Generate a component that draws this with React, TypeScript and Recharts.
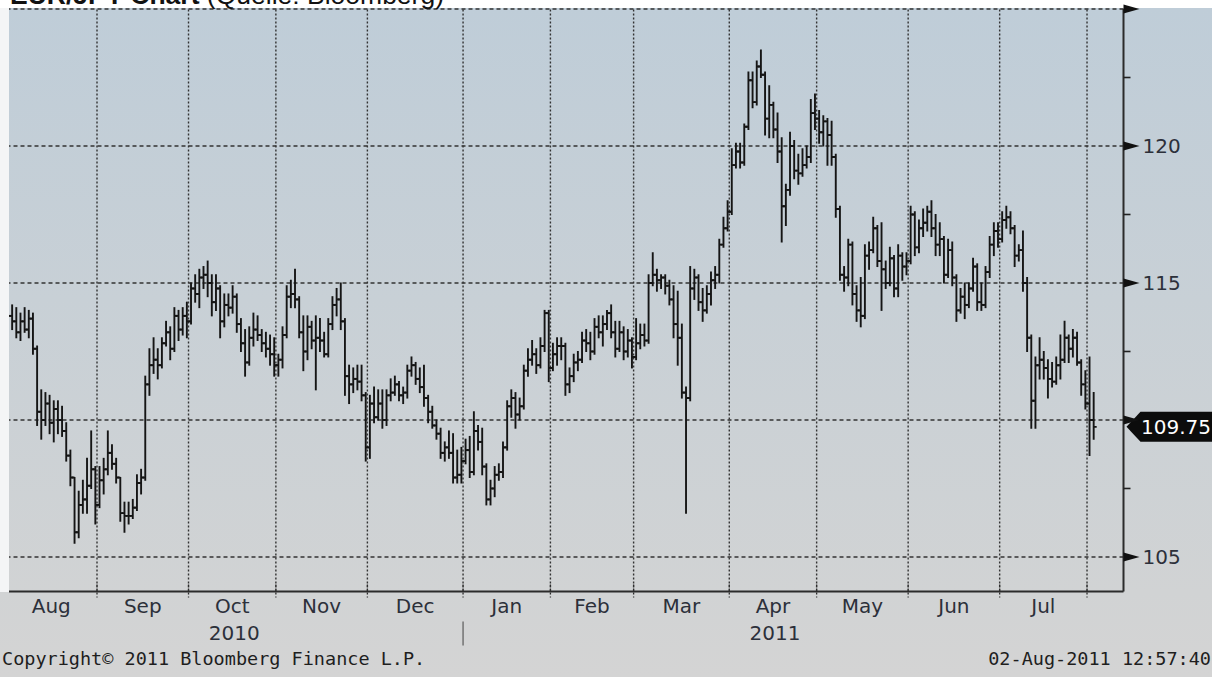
import React from 'react';
import { ComposedChart, Bar, XAxis, YAxis, ReferenceLine, ReferenceDot } from 'recharts';

// ---- calendar / axis data ----
const monthLabels = ['Aug', 'Sep', 'Oct', 'Nov', 'Dec', 'Jan', 'Feb', 'Mar', 'Apr', 'May', 'Jun', 'Jul', 'Aug'];
const monthStart = [0, 22, 44, 65, 87, 110, 131, 151, 174, 195, 217, 239, 260];
const yearMonthIdx = [2, 8];
const yearText = ['2010', '2011'];
const majorTicks = [105, 110, 115, 120, 125];
const minorTicks = [107.5, 112.5, 117.5, 122.5];
const lastPrice = 109.75;
const copyrightText = 'Copyright\u00A9 2011 Bloomberg Finance L.P.';
const stampText = '02-Aug-2011 12:57:40';

// ---- daily EUR/JPY OHLC (02-Aug-2010 .. 02-Aug-2011) ----
const openVals = [
  113.0,113.8,113.6,113.2,113.6,113.3,113.7,112.6,110.3,110.0,
  110.6,109.9,110.4,110.0,109.6,108.7,107.9,105.9,106.9,107.1,
  107.6,108.2,106.9,107.8,108.2,108.8,108.4,107.9,106.6,106.5,
  106.5,106.8,107.7,107.9,111.3,112.0,112.2,112.0,112.8,113.2,
  112.6,113.8,113.3,113.8,113.6,114.8,114.6,115.2,115.3,115.0,
  114.3,114.8,113.6,114.2,114.1,114.5,113.5,112.8,112.1,113.0,
  113.3,113.1,112.8,112.6,112.4,112.0,112.2,113.1,114.5,114.6,
  114.4,113.2,112.5,113.4,112.9,113.0,112.9,112.4,113.5,114.2,
  114.4,113.6,111.6,111.3,111.5,111.4,110.9,109.0,110.6,110.1,
  110.6,110.0,110.9,111.0,111.3,110.9,111.0,111.8,112.0,111.5,
  111.2,110.8,110.3,109.8,109.5,108.8,109.0,108.8,107.9,108.0,
  108.5,108.9,108.1,109.6,109.2,108.3,107.1,107.5,108.0,108.1,
  109.0,110.5,110.8,110.2,110.5,111.8,112.2,112.4,112.0,112.7,
  113.9,111.9,112.4,112.7,112.7,111.3,111.6,112.1,112.2,112.9,
  112.8,112.5,113.4,113.2,113.5,113.9,113.2,112.6,113.2,112.5,
  112.9,112.3,112.8,113.1,112.9,115.0,115.3,115.1,115.2,114.9,
  114.4,113.5,113.0,111.0,110.8,114.8,115.2,114.3,114.0,114.6,
  115.1,115.3,116.4,117.0,117.6,119.3,119.8,119.4,120.7,122.4,
  121.6,122.9,122.6,121.0,121.5,120.6,119.8,117.8,118.4,120.0,
  119.1,119.0,119.3,119.6,121.2,121.0,120.5,120.9,120.4,119.6,
  117.7,115.3,115.2,116.4,114.6,114.0,113.8,116.0,116.2,117.0,
  115.8,115.5,115.0,115.9,114.8,116.0,115.6,115.8,117.5,116.3,
  117.0,117.2,117.6,117.0,116.4,116.6,115.3,116.2,115.2,114.0,
  114.5,114.2,114.8,115.6,114.3,114.2,115.4,116.4,116.9,116.6,
  117.3,117.4,117.0,116.0,116.2,115.0,113.0,110.7,112.0,112.2,
  111.9,111.5,111.4,112.0,112.2,113.0,112.6,113.0,112.1,111.3,
  110.6,110.0,
];
const highVals = [
  114.0,114.2,114.1,113.9,114.1,114.0,113.9,112.7,111.1,111.0,
  110.9,110.7,110.7,110.5,109.9,108.9,107.9,107.4,107.8,108.6,
  109.6,108.3,108.3,108.6,109.6,109.1,108.6,107.9,107.0,107.0,
  107.1,108.0,108.2,111.6,112.6,113.0,112.6,113.0,113.6,113.4,
  114.1,114.0,114.1,114.3,115.0,115.3,115.5,115.6,115.8,115.3,
  115.3,114.9,114.6,114.6,114.9,114.6,113.7,113.3,113.4,113.9,
  113.8,113.3,113.2,113.1,113.0,112.4,113.4,114.9,115.1,115.5,
  114.5,113.8,113.8,113.6,113.8,113.7,113.2,113.7,114.5,114.8,
  115.0,113.7,112.0,111.9,112.0,112.0,111.0,110.9,111.2,111.1,
  111.1,111.1,111.5,111.6,111.4,111.2,112.0,112.3,112.1,111.9,
  112.0,110.9,110.5,110.0,109.7,109.2,109.6,109.5,108.9,109.0,
  109.3,109.4,110.3,109.8,109.7,108.4,107.8,108.3,108.4,109.2,
  110.7,111.1,111.0,110.8,112.0,112.6,112.9,112.6,113.0,114.0,
  114.0,112.8,113.0,113.0,112.8,111.9,112.4,112.5,113.2,113.3,
  113.2,113.7,113.8,113.8,114.0,114.2,113.6,113.6,113.4,113.3,
  113.0,113.7,113.5,113.5,115.3,116.1,115.5,115.3,115.3,115.1,
  114.9,114.7,113.5,111.2,115.6,115.5,115.3,114.8,114.9,115.4,
  115.6,116.6,117.4,118.0,119.9,120.1,120.1,120.8,122.7,122.7,
  123.1,123.5,122.7,122.2,121.6,121.2,120.3,118.6,120.5,120.2,
  119.7,119.9,120.0,121.7,121.9,121.3,121.1,121.0,120.9,119.7,
  117.8,115.6,116.6,116.5,114.9,115.2,116.4,116.5,117.4,117.1,
  117.2,115.8,116.3,116.0,116.4,116.1,116.1,117.8,117.6,117.3,
  117.7,117.8,118.0,117.5,117.2,116.7,116.6,116.5,115.3,114.8,
  115.0,115.0,115.9,115.7,115.0,115.6,116.7,117.2,117.2,117.6,
  117.8,117.6,117.1,116.4,116.9,115.2,113.1,112.3,113.0,112.5,
  112.2,112.1,112.3,113.1,113.6,113.1,113.3,113.2,112.2,111.8,
  112.3,111.0,
];
const lowVals = [
  112.8,113.3,113.0,112.9,113.2,113.0,112.4,109.8,109.3,109.8,
  109.5,109.2,109.5,109.4,108.5,107.6,105.5,105.7,106.6,106.6,
  107.5,106.2,106.8,107.3,108.0,108.2,107.7,106.3,105.9,106.2,
  106.4,106.7,107.3,107.8,110.9,111.7,111.5,111.9,112.7,112.2,
  112.5,112.9,113.1,113.0,113.5,114.3,114.1,114.8,114.5,113.8,
  114.0,113.0,113.4,113.8,113.9,113.2,112.5,111.6,112.0,112.7,
  112.9,112.5,112.3,112.0,111.6,111.6,111.9,113.0,114.1,114.1,
  113.0,111.8,112.2,112.6,111.1,112.5,112.3,112.3,113.3,113.8,
  113.3,110.9,110.6,111.0,111.1,110.7,108.5,108.6,109.9,110.0,
  109.7,109.8,110.7,110.9,110.7,110.6,110.8,111.6,111.3,111.0,
  110.5,109.9,109.7,109.3,108.6,108.5,108.6,107.7,107.7,107.7,
  108.4,107.9,108.0,108.9,108.0,106.9,106.9,107.2,107.8,107.9,
  108.9,110.1,109.7,110.0,110.4,111.6,112.0,111.7,111.9,112.5,
  111.4,111.8,112.0,112.2,110.9,111.0,111.4,111.8,112.1,112.5,
  112.2,112.4,113.0,112.7,113.3,113.0,112.3,112.5,112.2,112.3,
  111.9,112.2,112.6,112.7,112.8,114.9,114.7,114.8,114.6,114.2,
  113.0,112.0,110.8,106.6,110.7,114.4,114.0,113.6,113.9,114.2,
  114.8,115.0,116.3,116.9,117.5,119.2,119.2,119.3,120.6,121.4,
  121.5,122.5,120.4,120.3,120.3,119.4,116.5,117.1,118.2,118.8,
  118.6,118.9,119.2,119.4,120.6,120.1,120.0,119.3,119.3,117.4,
  115.1,114.7,114.9,114.2,113.6,113.4,113.7,115.5,116.1,115.6,
  114.0,114.8,114.9,114.5,114.5,115.1,115.3,115.7,116.0,116.1,
  116.7,116.9,116.7,116.0,116.0,115.0,115.2,114.9,113.6,113.9,
  113.7,114.1,114.7,114.0,114.0,114.1,115.2,116.0,116.3,116.5,
  117.0,116.8,115.6,115.8,114.7,112.5,109.7,109.7,111.5,111.5,
  110.8,111.2,111.3,111.5,112.1,112.1,112.3,112.0,110.9,110.4,
  108.7,109.3,
];
const closeVals = [
  113.8,113.6,113.2,113.6,113.3,113.7,112.6,110.3,110.0,110.6,
  109.9,110.4,110.0,109.6,108.7,107.9,105.9,106.9,107.1,107.6,
  108.2,106.9,107.8,108.2,108.8,108.4,107.9,106.6,106.5,106.5,
  106.8,107.7,107.9,111.3,112.0,112.2,112.0,112.8,113.2,112.6,
  113.8,113.3,113.8,113.6,114.8,114.6,115.2,115.3,115.0,114.3,
  114.8,113.6,114.2,114.1,114.5,113.5,112.8,112.1,113.0,113.3,
  113.1,112.8,112.6,112.4,112.0,112.2,113.1,114.5,114.6,114.4,
  113.2,112.5,113.4,112.9,113.0,112.9,112.4,113.5,114.2,114.4,
  113.6,111.6,111.3,111.5,111.4,110.9,109.0,110.6,110.1,110.6,
  110.0,110.9,111.0,111.3,110.9,111.0,111.8,112.0,111.5,111.2,
  110.8,110.3,109.8,109.5,108.8,109.0,108.8,107.9,108.0,108.5,
  108.9,108.1,109.6,109.2,108.3,107.1,107.5,108.0,108.1,109.0,
  110.5,110.8,110.2,110.5,111.8,112.2,112.4,112.0,112.7,113.9,
  111.9,112.4,112.7,112.7,111.3,111.6,112.1,112.2,112.9,112.8,
  112.5,113.4,113.2,113.5,113.9,113.2,112.6,113.2,112.5,112.9,
  112.3,112.8,113.1,112.9,115.0,115.3,115.1,115.2,114.9,114.4,
  113.5,113.0,111.0,110.8,114.8,115.2,114.3,114.0,114.6,115.1,
  115.3,116.4,117.0,117.6,119.3,119.8,119.4,120.7,122.4,121.6,
  122.9,122.6,121.0,121.5,120.6,119.8,117.8,118.4,120.0,119.1,
  119.0,119.3,119.6,121.2,121.0,120.5,120.9,120.4,119.6,117.7,
  115.3,115.2,116.4,114.6,114.0,113.8,116.0,116.2,117.0,115.8,
  115.5,115.0,115.9,114.8,116.0,115.6,115.8,117.5,116.3,117.0,
  117.2,117.6,117.0,116.4,116.6,115.3,116.2,115.2,114.0,114.5,
  114.2,114.8,115.6,114.3,114.2,115.4,116.4,116.9,116.6,117.3,
  117.4,117.0,116.0,116.2,115.0,113.0,110.7,112.0,112.2,111.9,
  111.5,111.4,112.0,112.2,113.0,112.6,113.0,112.1,111.3,110.6,
  110.0,109.75,
];

// ---- geometry of the chart frame ----
const W = 1212;
const H = 677;
const X_MIN = 0.344;
const X_MAX = 268.27;
const Y_MIN = 103.74;
const Y_MAX = 125;

const data = openVals.map((o, i) => ({
  i,
  o,
  h: highVals[i],
  l: lowVals[i],
  c: closeVals[i],
  range: [lowVals[i], highVals[i]],
}));

const boundaries = monthStart.slice(1).map((s) => s - 0.5);
const mids = monthStart.slice(0, 12).map((s, m) => (s + monthStart[m + 1] - 1) / 2);
const xTicks = [...boundaries, ...mids].sort((a, b) => a - b);
const yTicks = [...majorTicks, ...minorTicks].sort((a, b) => a - b);

const near = (arr: number[], v: number) => arr.findIndex((a) => Math.abs(a - v) < 1e-6);

const LABEL_FONT = 'DejaVu Sans';
const LABEL_COLOR = '#2c303a';

const OhlcShape = (props: any) => {
  const { x, y, width, height, payload } = props;
  if (x == null || y == null || !payload) return null;
  const top = Math.min(y, y + height);
  const bot = Math.max(y, y + height);
  const span = payload.h - payload.l;
  const py = (v: number) => (span > 0 ? top + ((payload.h - v) / span) * (bot - top) : top);
  const cx = x + width / 2;
  const yo = py(payload.o);
  const yc = py(payload.c);
  return (
    <g stroke="#151515" strokeWidth={1.9} fill="none">
      <line x1={cx} x2={cx} y1={top - 0.5} y2={bot + 0.5} />
      <line x1={cx - 3} x2={cx} y1={yo} y2={yo} />
      <line x1={cx} x2={cx + 3} y1={yc} y2={yc} />
    </g>
  );
};

const XTick = (props: any) => {
  const { x, y, payload } = props;
  const v = payload.value;
  const bi = near(boundaries, v);
  if (bi >= 0) {
    return (
      <g>
        <line x1={x} x2={x} y1={y - 7} y2={y + 6} stroke="#2b2b2b" strokeWidth={1.3} strokeDasharray="2 2" />
        {monthLabels[bi + 1] === 'Jan' ? (
          <line x1={x} x2={x} y1={y + 30} y2={y + 54} stroke="#5a5a5a" strokeWidth={1.2} />
        ) : null}
      </g>
    );
  }
  const mi = near(mids, v);
  if (mi < 0) return null;
  const yi = yearMonthIdx.indexOf(mi);
  return (
    <g>
      <text x={x} y={y + 21} textAnchor="middle" fontFamily={LABEL_FONT} fontSize={20} fill={LABEL_COLOR}>
        {monthLabels[mi]}
      </text>
      {yi >= 0 ? (
        <text x={x + 2} y={y + 48} textAnchor="middle" fontFamily={LABEL_FONT} fontSize={20} fill={LABEL_COLOR}>
          {yearText[yi]}
        </text>
      ) : null}
    </g>
  );
};

const YTick = (props: any) => {
  const { x, y, payload } = props;
  const v = payload.value;
  if (near(minorTicks, v) >= 0) {
    return <line x1={x} x2={x + 7} y1={y} y2={y} stroke="#222" strokeWidth={1.6} />;
  }
  const showLabel = v !== 110 && v !== 125;
  return (
    <g>
      <polygon points={`${x},${y - 4.5} ${x + 16},${y} ${x},${y + 4.5}`} fill="#111" />
      {showLabel ? (
        <text x={x + 19} y={y + 7} fontFamily={LABEL_FONT} fontSize={20} fill={LABEL_COLOR}>
          {v}
        </text>
      ) : null}
    </g>
  );
};

const TagShape = (props: any) => {
  const { cx, cy } = props;
  if (cx == null || cy == null) return null;
  return (
    <g>
      <polygon
        points={`${cx + 3},${cy} ${cx + 17},${cy - 15} ${cx + 100},${cy - 15} ${cx + 100},${cy + 15} ${cx + 17},${cy + 15}`}
        fill="#0c0c0c"
      />
      <text x={cx + 17.5} y={cy + 7.5} fontFamily={LABEL_FONT} fontSize={20} fill="#ffffff">
        {lastPrice.toFixed(2)}
      </text>
    </g>
  );
};

export default function App() {
  return (
    <div
      style={{
        position: 'absolute',
        left: 0,
        top: 0,
        width: W,
        height: H,
        overflow: 'hidden',
        background: '#d4d4d4',
      }}
    >
      <div style={{ position: 'absolute', left: 0, top: 0, width: W, height: 8, background: '#ffffff' }} />
      <div
        style={{
          position: 'absolute',
          left: 0,
          top: 8,
          width: W,
          height: 669,
          background: 'linear-gradient(to bottom, #bfcdd8 0px, #d1d3d4 584px, #d4d4d4 669px)',
        }}
      />
      <div style={{ position: 'absolute', left: 0, top: 8, width: 9, height: 584, background: '#f4f5f6' }} />
      <div style={{ position: 'absolute', left: 0, top: 0 }}>
        <ComposedChart width={W} height={H} data={data} margin={{ top: 9, right: 0, bottom: 0, left: 9 }}>
          {boundaries.map((b) => (
            <ReferenceLine
              key={'vx' + b}
              xAxisId="x"
              yAxisId="y"
              x={b}
              stroke="#333"
              strokeWidth={1.4}
              strokeDasharray="2 2"
              zIndex={-100}
            />
          ))}
          {majorTicks.map((v) => (
            <ReferenceLine
              key={'hy' + v}
              xAxisId="x"
              yAxisId="y"
              y={v}
              stroke="#333"
              strokeWidth={1.4}
              strokeDasharray="4 3"
              zIndex={-100}
            />
          ))}
          <XAxis
            xAxisId="x"
            dataKey="i"
            type="number"
            domain={[X_MIN, X_MAX]}
            allowDataOverflow
            ticks={xTicks}
            interval={0}
            height={85.5}
            tickLine={false}
            tickSize={0}
            tickMargin={0}
            axisLine={{ stroke: '#2b2b2b', strokeWidth: 2 }}
            tick={<XTick />}
          />
          <YAxis
            yAxisId="y"
            orientation="right"
            type="number"
            domain={[Y_MIN, Y_MAX]}
            allowDataOverflow
            ticks={yTicks}
            interval={0}
            width={88.5}
            tickLine={false}
            tickSize={0}
            tickMargin={0}
            axisLine={{ stroke: '#2b2b2b', strokeWidth: 2 }}
            tick={<YTick />}
          />
          <Bar
            xAxisId="x"
            yAxisId="y"
            dataKey="range"
            barSize={3}
            shape={<OhlcShape />}
            isAnimationActive={false}
          />
          <ReferenceDot
            xAxisId="x"
            yAxisId="y"
            x={X_MAX}
            y={lastPrice}
            r={0}
            ifOverflow="visible"
            shape={<TagShape />}
          />
        </ComposedChart>
      </div>
      <svg
        width={W}
        height={H}
        style={{ position: 'absolute', left: 0, top: 0, pointerEvents: 'none' }}
      >
        <text x={10} y={4} fontFamily="Liberation Sans" fontSize={26.5} fill="#111">
          <tspan fontWeight="bold">EUR/JPY Chart</tspan>
          <tspan> (Quelle: Bloomberg)</tspan>
        </text>
        <text x={2} y={665} fontFamily="DejaVu Sans Mono" fontSize={18.5} fill="#1e1e1e">
          {copyrightText}
        </text>
        <text x={1211} y={665} textAnchor="end" fontFamily="DejaVu Sans Mono" fontSize={18.5} fill="#1e1e1e">
          {stampText}
        </text>
      </svg>
    </div>
  );
}
